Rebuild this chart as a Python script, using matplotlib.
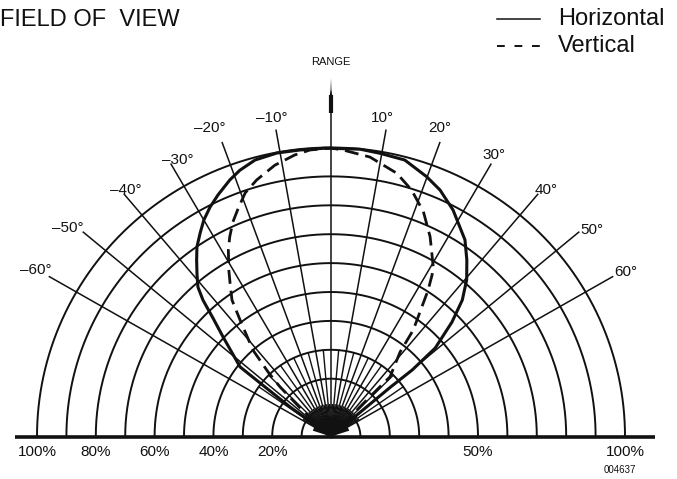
import numpy as np
import matplotlib
matplotlib.use('Agg')
import matplotlib.pyplot as plt

plt.rcParams['font.family'] = ['Liberation Sans', 'DejaVu Sans']

# ---- data (angle in degrees from vertical, range in %) ----
horiz_deg = [-53.5, -53.7, -52.5, -52.1, -46.8, -44.4, -42.7, -41.2, -39.2,
             -36.8, -34.8, -32.3, -30.0, -27.4, -24.7, -21.2, -18.6, -15.1,
             -10.6, -6.1, -1.0, 5.7, 9.7, 14.7, 19.9, 23.5, 27.9, 33.8, 37.1,
             40.4, 43.4, 46.1, 49.2, 50.2, 49.8, 50.0]
horiz_pct = [0, 17.3, 30.4, 39.2, 50.4, 57.4, 64.2, 68.7, 72.1,
             76.3, 79.9, 83.3, 86.5, 89.4, 92.0, 95.2, 97.2, 99.1,
             99.8, 99.7, 99.8, 99.9, 99.4, 98.9, 95.6, 93.0, 88.7, 81.9, 76.6,
             71.2, 65.0, 57.1, 46.8, 35.9, 26.4, 0]

vert_deg = [-46.0, -46.7, -45.3, -43.8, -41.6, -37.5, -35.5, -32.9, -31.1,
            -28.4, -26.5, -24.2, -21.8, -19.1, -15.9, -11.5, -7.2, -4.1, 0,
            2.4, 7.8, 13.8, 17.8, 22.0, 26.0, 30.6, 31.6, 33.1, 37.2, 38.8,
            44.2, 43.9, 44.0]
vert_pct = [0, 14.5, 24.4, 30.9, 40.0, 50.8, 58.0, 63.2, 67.3,
            73.4, 77.2, 81.4, 85.0, 89.2, 92.3, 95.8, 98.2, 99.4, 99.8,
            99.2, 97.6, 93.8, 89.6, 83.9, 76.9, 68.3, 65.6, 60.5, 46.3, 37.5,
            28.8, 19.1, 0]

ring_pct = [10, 20, 30, 40, 50, 60, 70, 80, 90, 100]
spoke_deg = [-60, -50, -40, -30, -20, -10, 0, 10, 20, 30, 40, 50, 60]
left_ticks = [100, 80, 60, 40, 20]
right_ticks = [50, 100]

# ---- sheet geometry (pixels) ----
W, H = 677, 479
CX, CY = 331, 436.5
RX, RY = 294, 289          # scan is a touch flatter vertically

# label centres for the angle marks (pixels), same order as spoke_deg
label_px = [(36, 270), (68, 228), (126, 190), (178, 160), (210, 128),
            (272, 118), None, (382, 118), (440, 128), (494, 155),
            (546, 190), (592, 230), (626, 272)]


def pos(px, py):
    return (px - CX) / RX, (CY - py) / RY


def polar(deg, r):
    t = np.radians(np.asarray(deg, dtype=float))
    r = np.asarray(r, dtype=float)
    return r * np.sin(t), r * np.cos(t)


fig = plt.figure(figsize=(W / 100, H / 100), dpi=100)
ax = fig.add_axes([0, 0, 1, 1])
ax.set_xlim(-CX / RX, (W - CX) / RX)
ax.set_ylim(-(H - CY) / RY, CY / RY)
ax.axis('off')

ink = '#111111'

# concentric range rings
th = np.linspace(-90, 90, 361)
for p in ring_pct:
    x, y = polar(th, p / 100)
    ax.plot(x, y, color=ink, lw=1.4, solid_capstyle='butt')

# main spokes every 10 deg
for d in spoke_deg:
    if d == 0:
        continue
    x, y = polar([d, d], [0, 1.07 + 0.0006 * abs(d)])
    ax.plot(x, y, color=ink, lw=1.1)

# finer spokes near the origin
for d in np.arange(-55, 60, 10):
    x, y = polar([d, d], [0, 0.30])
    ax.plot(x, y, color=ink, lw=1.0)
for d in np.arange(-57.5, 60, 5):
    x, y = polar([d, d], [0, 0.11])
    ax.plot(x, y, color=ink, lw=1.1)

# dark hub
hub = np.linspace(-72, 72, 60)
hx, hy = polar(hub, 0.065)
ax.fill(np.r_[0, hx, 0], np.r_[0, hy, 0], color=ink, lw=0)

# range axis with arrow
ax.plot([0, 0], [0, 1.13], color=ink, lw=1.1)
ax.plot([0, 0], [1.12, 1.18], color=ink, lw=3.0, solid_capstyle='butt')
ax.fill([-0.005, 0.005, 0.0015, 0, -0.0015], [1.175, 1.175, 1.2, 1.24, 1.2],
        color=ink, lw=0)

# baseline
ax.plot([pos(15, 0)[0], pos(655, 0)[0]], [0, 0], color=ink, lw=2.6,
        solid_capstyle='butt')

# field of view curves
hx, hy = polar(horiz_deg, np.array(horiz_pct) / 100)
ax.plot(hx, hy, color=ink, lw=2.2, solid_joinstyle='round')
vx, vy = polar(vert_deg, np.array(vert_pct) / 100)
ax.plot(vx, vy, color=ink, lw=2.0, linestyle=(0, (5, 2.5)))

# angle labels
for d, lp in zip(spoke_deg, label_px):
    if lp is None:
        continue
    lab = ('\u2013%d\u00b0' % -d) if d < 0 else ('%d\u00b0' % d)
    ax.text(*pos(*lp), lab, ha='center', va='center', fontsize=11, color=ink)

ax.text(0, pos(0, 62)[1], 'RANGE', ha='center', va='center', fontsize=8,
        color=ink)

# percent labels along the baseline
yl = pos(0, 452)[1]
for p in left_ticks:
    ax.text(-p / 100, yl, '%d%%' % p, ha='center', va='center', fontsize=11,
            color=ink)
for p in right_ticks:
    ax.text(p / 100, yl, '%d%%' % p, ha='center', va='center', fontsize=11,
            color=ink)

ax.text(*pos(636, 470), '004637', ha='right', va='center', fontsize=7,
        color=ink)

# title and legend
ax.text(*pos(0, 20), 'FIELD OF  VIEW', ha='left', va='center', fontsize=17,
        color=ink)
x1, y1 = pos(497, 19)
x2, _ = pos(540, 19)
ax.plot([x1, x2], [y1, y1], color=ink, lw=1.1)
ax.text(*pos(558, 19), 'Horizontal', ha='left', va='center', fontsize=17,
        color=ink)
_, y2 = pos(0, 46)
ax.plot([x1, x2], [y2, y2], color=ink, lw=1.4, linestyle=(0, (4, 5)))
ax.text(*pos(558, 46), 'Vertical', ha='left', va='center', fontsize=17,
        color=ink)

fig.savefig('out.png', dpi=100)
